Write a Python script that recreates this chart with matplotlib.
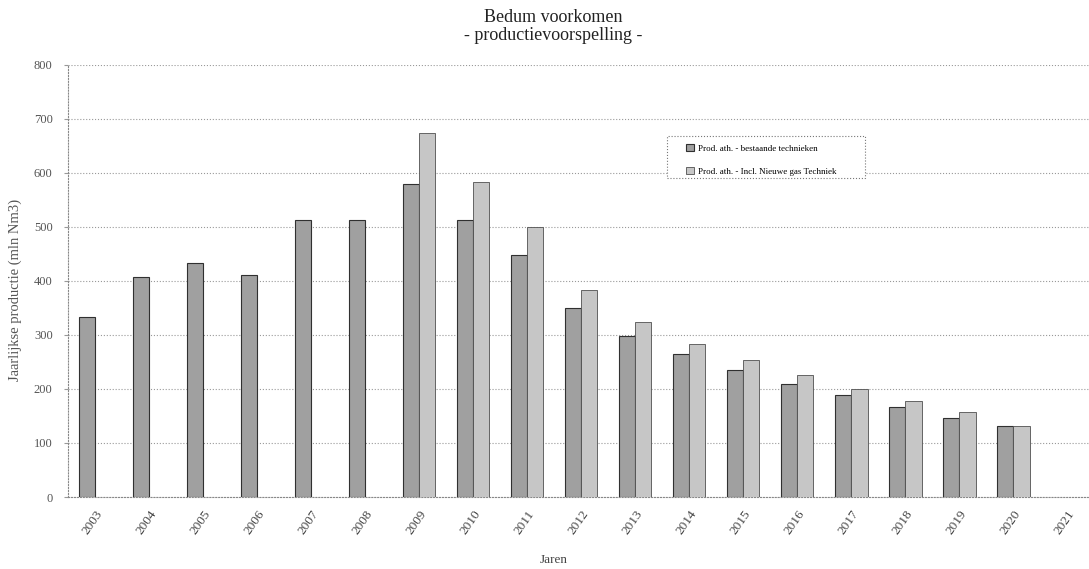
import numpy as np
import matplotlib.pyplot as plt
from matplotlib.patches import Rectangle

# --- data ---
jaren = ["2003", "2004", "2005", "2006", "2007", "2008", "2009", "2010", "2011", "2012",
         "2013", "2014", "2015", "2016", "2017", "2018", "2019", "2020", "2021"]
prod_bestaand = [333, 407, 433, 410, 512, 512, 580, 512, 447, 349,
                 298, 264, 235, 209, 188, 166, 147, 132, np.nan]
prod_nieuw = [np.nan, np.nan, np.nan, np.nan, np.nan, np.nan, 674, 583, 500, 383,
              323, 284, 253, 225, 200, 178, 158, 132, np.nan]
legenda = ["Prod. ath. - bestaande technieken", "Prod. ath. - Incl. Nieuwe gas Techniek"]
y_ticks = list(range(0, 801, 100))

serif = ["Liberation Serif", "DejaVu Serif"]

fig = plt.figure(figsize=(10.89, 5.69), dpi=100)
ax = fig.add_axes([0.0624, 0.1265, 0.9376, 0.760])

x = np.arange(len(jaren))
w = 0.3
ax.bar(x - w / 2, prod_bestaand, width=w, color="#a0a0a0", edgecolor="#303030",
       linewidth=0.8, label=legenda[0], zorder=3)
ax.bar(x + w / 2, prod_nieuw, width=w, color="#c6c6c6", edgecolor="#505050",
       linewidth=0.6, label=legenda[1], zorder=3)

ax.set_xlim(-0.5, len(jaren) - 0.6)
ax.set_ylim(0, 800)
ax.set_yticks(y_ticks)
ax.set_yticklabels([str(v) for v in y_ticks], family=serif, fontsize=9, color="#555555")
ax.set_xticks(x)
ax.set_xticklabels(jaren, rotation=55, ha="right", rotation_mode="anchor",
                   family=serif, fontsize=9.5, color="#444444")
ax.tick_params(axis="x", length=0, pad=8)
ax.tick_params(axis="y", length=3, color="#999999", pad=8)

ax.grid(axis="y", linestyle=":", color="#999999", linewidth=0.8, zorder=0)
for s in ["top", "right"]:
    ax.spines[s].set_visible(False)
for s in ["left", "bottom"]:
    ax.spines[s].set_linestyle(":")
    ax.spines[s].set_color("#888888")

ax.set_ylabel("Jaarlijkse productie (mln Nm3)", family=serif, fontsize=10.5, color="#555555")
ax.yaxis.set_label_coords(-0.045, 0.48)
ax.set_xlabel("Jaren", family=serif, fontsize=9.5, color="#444444", va="center")
ax.xaxis.set_label_coords(0.476, -0.146)

fig.text(0.508, 0.985, "Bedum voorkomen", ha="center", va="top", family=serif,
         fontsize=13, color="#222222")
fig.text(0.508, 0.953, "- productievoorspelling -", ha="center", va="top", family=serif,
         fontsize=13, color="#222222")

# legend without its own frame, dotted box drawn around it like the reference
leg = ax.legend(loc="upper left", bbox_to_anchor=(0.603, 0.822), prop={"family": serif, "size": 6.5},
                frameon=False, handlelength=0.8, handleheight=0.8,
                borderpad=0.3, labelspacing=1.6, borderaxespad=0, handletextpad=0.5)
box = Rectangle((0.587, 0.737), 0.194, 0.098, transform=ax.transAxes, fill=False,
                edgecolor="#777777", linestyle=":", linewidth=0.8, zorder=5)
ax.add_patch(box)
# white background behind the legend entries
ax.add_patch(Rectangle((0.587, 0.737), 0.194, 0.098, transform=ax.transAxes,
                       facecolor="white", edgecolor="none", zorder=4))

fig.savefig("out.png", dpi=100)
